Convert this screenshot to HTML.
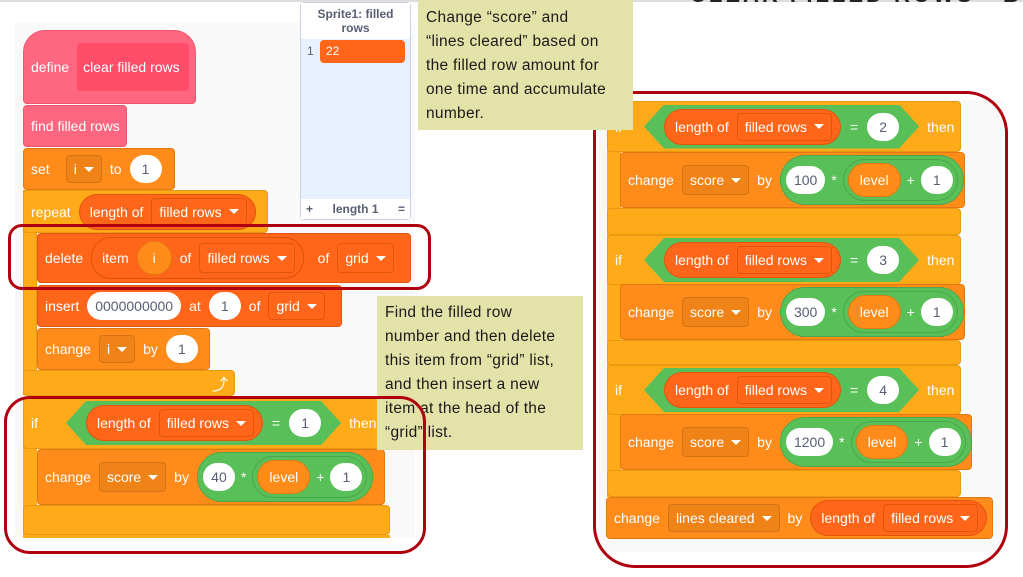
<!DOCTYPE html>
<html><head><meta charset="utf-8"><style>
*{box-sizing:border-box;margin:0;padding:0}
body{width:1023px;height:577px;position:relative;overflow:hidden;background:#fff;font-family:"Liberation Sans",sans-serif}
.a{position:absolute}
.b{position:absolute;display:flex;align-items:center;gap:8px;padding-left:7px;color:#fff;font-size:14px;border-radius:4px;white-space:nowrap}
.ctl{background:#FFAB19;border:1px solid #e89a12}
.var{background:#FF8C1A;border:1px solid #e07a10}
.lst{background:#FF661A;border:1px solid #e0560f}
.pk{background:#FF6680;border:1px solid #f0556f}
.dd{display:flex;align-items:center;height:30px;padding:0 7px;border:1px solid rgba(0,0,0,.12);border-radius:4px;background:rgba(0,0,0,.06);color:#fff}
.lst .dd,.rp .dd{background:#FF661A;border-color:#e0560f}
.dd:after{content:"";border-left:5px solid transparent;border-right:5px solid transparent;border-top:5px solid #fff;margin-left:7px}
.ov{background:#fff;color:#575e75;border-radius:15px;height:28px;display:flex;align-items:center;justify-content:center;padding:0 8px;min-width:32px}
.rp{background:#FF661A;border:1px solid #e0560f;border-radius:20px;height:40px;display:flex;align-items:center;gap:8px;padding:0 8px 0 10px}
.vr{background:#FF8C1A;border:1px solid #e07a10;border-radius:18px;height:34px;display:flex;align-items:center;padding:0 11px}
.gr{background:#59C059;border:1px solid #4aa74a;border-radius:25px;height:50px;display:flex;align-items:center;gap:6px;padding:0 5px}
.gi{border:1px solid #4aa74a;border-radius:22px;height:42px;display:flex;align-items:center;gap:6px;padding:0 4px}
.hex{background:#59C059;height:44px;display:flex;align-items:center;gap:9px;padding:0 20px;clip-path:polygon(20px 0,calc(100% - 20px) 0,100% 50%,calc(100% - 20px) 100%,20px 100%,0 50%)}
.note{position:absolute;background:#e3e3a9;color:#1a1a1a;font-size:15.5px;line-height:24px;padding:6px 8px;letter-spacing:.3px}
.red{position:absolute;border:3px solid #b00010}
</style></head><body>
<div class="a" style="left:0;top:0;width:1023px;height:2px;background:#ddd"></div>
<div class="a" style="left:0;top:0;width:1023px;height:20px;overflow:hidden"><div class="a" style="left:690px;top:-18px;font-size:22px;font-weight:bold;letter-spacing:3px;color:#222;white-space:nowrap">CLEAR FILLED ROWS - BLOCK</div></div>

<!-- left panel -->
<div class="a" style="left:15px;top:22px;width:400px;height:516px;background:#f9f9f9"></div>
<div class="a" style="left:300px;top:2px;width:111px;height:218px;background:#e6f0ff;border:1px solid #c9d4e3;border-radius:4px"></div>
<div class="a" style="left:301px;top:3px;width:109px;height:36px;background:#fff;color:#575e75;font-size:12px;font-weight:bold;text-align:center;line-height:14px;padding:4px 10px 0">Sprite1: filled rows</div>
<div class="a" style="left:307px;top:44px;font-size:12px;color:#575e75">1</div>
<div class="a" style="left:320px;top:40px;width:85px;height:23px;background:#FF661A;border-radius:4px;color:#fff;font-size:12px;padding:4px 6px">22</div>
<div class="a" style="left:301px;top:199px;width:109px;height:20px;background:#fff;color:#575e75;font-size:12px;font-weight:bold;display:flex;justify-content:space-between;padding:3px 5px"><span>+</span><span>length 1</span><span>=</span></div>

<div class="b pk" style="left:23px;top:30px;width:173px;height:74px;border-radius:22px 22px 4px 4px"><span>define</span><div style="background:#FF4D6A;height:48px;width:112px;border-radius:4px;display:flex;align-items:center;padding-left:6px">clear filled rows</div></div>
<div class="b pk" style="left:23px;top:105px;width:104px;height:42px">find filled rows</div>
<div class="b var" style="left:23px;top:148px;width:152px;height:42px"><span>set</span><span class="dd" style="height:28px;margin-left:8px">i</span><span>to</span><span class="ov">1</span></div>
<div class="a ctl" style="left:23px;top:190px;width:14px;height:205px;background:#FFAB19"></div>
<div class="b ctl" style="left:23px;top:190px;width:245px;height:43px"><span>repeat</span><span class="rp" style="height:36px">length of <span class="dd" style="height:28px">filled rows</span></span></div>
<div class="b ctl" style="left:23px;top:370px;width:212px;height:26px;justify-content:flex-end;padding-right:6px;font-size:16px">⤴</div>
<div class="b lst" style="left:37px;top:233px;width:374px;height:50px"><span>delete</span><span class="rp" style="height:42px;background:#FF661A;border-color:#d9530c">item <span class="vr" style="padding:0 15px">i</span> of <span class="dd">filled rows</span></span><span style="margin-left:6px">of</span><span class="dd">grid</span></div>
<div class="b lst" style="left:37px;top:285px;width:305px;height:42px"><span>insert</span><span class="ov" style="padding:0 8px">0000000000</span><span>at</span><span class="ov">1</span><span>of</span><span class="dd" style="height:28px">grid</span></div>
<div class="b var" style="left:37px;top:328px;width:173px;height:42px"><span>change</span><span class="dd" style="height:28px">i</span><span>by</span><span class="ov">1</span></div>

<div class="a" style="left:23px;top:397px;width:14px;height:138px;background:#FFAB19"></div>
<div class="b ctl" style="left:23px;top:397px;width:362px;height:52px"><span style="margin-right:20px">if</span><span class="hex">
<span class="rp" style="height:36px">length of <span class="dd" style="height:28px">filled rows</span></span><span>=</span><span class="ov">1</span></span><span>then</span></div>
<div class="b var" style="left:37px;top:449px;width:348px;height:56px"><span>change</span><span class="dd">score</span><span>by</span><span class="gr"><span class="ov">40</span><span>*</span><span class="gi"><span class="vr">level</span><span>+</span><span class="ov">1</span></span></span></div>
<div class="b ctl" style="left:23px;top:505px;width:367px;height:30px"></div>
<div class="a" style="left:23px;top:535px;width:367px;height:3px;background:#FFAB19"></div>

<div class="red" style="left:8px;top:224px;width:423px;height:66px;border-radius:14px"></div>

<!-- right panel -->
<div class="a" style="left:598px;top:100px;width:405px;height:452px;background:#f9f9f9"></div>
<div class="a" style="left:607px;top:101px;width:14px;height:396px;background:#FFAB19"></div>

<div class="b ctl" style="left:607px;top:101px;width:354px;height:51px"><span style="margin-right:14px">if</span><span class="hex"><span class="rp" style="height:36px">length of <span class="dd" style="height:28px">filled rows</span></span><span>=</span><span class="ov">2</span></span><span>then</span></div>
<div class="b var" style="left:620px;top:152px;width:345px;height:56px"><span>change</span><span class="dd">score</span><span>by</span><span class="gr"><span class="ov">100</span><span>*</span><span class="gi"><span class="vr">level</span><span>+</span><span class="ov">1</span></span></span></div>
<div class="b ctl" style="left:607px;top:208px;width:354px;height:27px"></div>

<div class="b ctl" style="left:607px;top:235px;width:354px;height:50px"><span style="margin-right:14px">if</span><span class="hex"><span class="rp" style="height:36px">length of <span class="dd" style="height:28px">filled rows</span></span><span>=</span><span class="ov">3</span></span><span>then</span></div>
<div class="b var" style="left:620px;top:284px;width:345px;height:56px"><span>change</span><span class="dd">score</span><span>by</span><span class="gr"><span class="ov">300</span><span>*</span><span class="gi"><span class="vr">level</span><span>+</span><span class="ov">1</span></span></span></div>
<div class="b ctl" style="left:607px;top:340px;width:354px;height:25px"></div>

<div class="b ctl" style="left:607px;top:365px;width:354px;height:50px"><span style="margin-right:14px">if</span><span class="hex"><span class="rp" style="height:36px">length of <span class="dd" style="height:28px">filled rows</span></span><span>=</span><span class="ov">4</span></span><span>then</span></div>
<div class="b var" style="left:620px;top:414px;width:352px;height:56px"><span>change</span><span class="dd">score</span><span>by</span><span class="gr"><span class="ov">1200</span><span>*</span><span class="gi"><span class="vr">level</span><span>+</span><span class="ov">1</span></span></span></div>
<div class="b ctl" style="left:607px;top:470px;width:354px;height:27px"></div>

<div class="b var" style="left:606px;top:497px;width:387px;height:42px"><span>change</span><span class="dd" style="height:28px">lines cleared</span><span>by</span><span class="rp" style="height:36px">length of <span class="dd" style="height:28px">filled rows</span></span></div>

<div class="red" style="left:593px;top:91px;width:415px;height:477px;border-radius:42px"></div>
<div class="note" style="left:418px;top:0;width:215px;height:130px;padding-top:6px">Change “score” and<br>“lines cleared” based on<br>the filled row amount for<br>one time and accumulate<br>number.</div>

<div class="note" style="left:377px;top:296px;width:206px;height:154px;padding:5px 8px">Find the filled row<br>number and then delete<br>this item from “grid” list,<br>and then insert a new<br>item at the head of the<br>“grid” list.</div>
<div class="red" style="left:4px;top:396px;width:422px;height:158px;border-radius:26px"></div>
</body></html>
